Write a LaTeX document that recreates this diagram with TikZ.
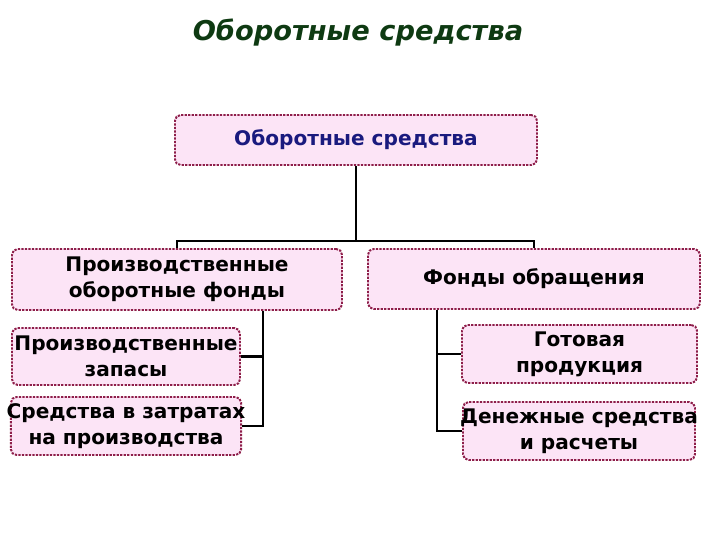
\documentclass[tikz,border=0pt]{standalone}
\usepackage{fontspec}
\setmainfont{DejaVu Sans}
\usetikzlibrary{positioning}
\definecolor{boxfill}{HTML}{FCE4F6}
\definecolor{boxline}{HTML}{8E1E4A}
\definecolor{titlegreen}{HTML}{0E3A12}
\definecolor{topblue}{HTML}{1A1A7E}
\begin{document}
\begin{tikzpicture}[font=\bfseries\fontsize{14.3}{18.5}\selectfont,fundbox/.style={draw=boxline,fill=boxfill,dash pattern=on 1.6pt off 0.9pt,line width=1.4pt,rounded corners=4pt,align=center,inner sep=2pt},subbox/.style={fundbox,inner xsep=-3pt},link/.style={line width=1.5pt}]
\useasboundingbox (0,0) rectangle (18,13.5);
\node[font=\bfseries\itshape\fontsize{19.4}{22}\selectfont,text=titlegreen] (title) at (8.95,12.675){Оборотные средства};
\node[fundbox,minimum width=9.05cm,minimum height=1.25cm,text=topblue] (top) at (8.9,10.0){Оборотные средства};
\node[fundbox,minimum width=8.25cm,minimum height=1.525cm] (l2) at (4.425,6.5125){Производственные\\оборотные фонды};
\node[fundbox,minimum width=8.3cm,minimum height=1.5cm] (r2) at (13.35,6.525){Фонды обращения};
\node[subbox,minimum width=5.7cm,minimum height=1.425cm] (ll1) at (3.15,4.5875){Производственные\\запасы};
\node[subbox,minimum width=5.7cm,minimum height=1.45cm] (ll2) at (3.15,2.85){Средства в затратах\\на производства};
\node[subbox,minimum width=5.875cm,minimum height=1.45cm] (rl1) at (14.4875,4.65){Готовая\\продукция};
\node[subbox,minimum width=5.8cm,minimum height=1.45cm] (rl2) at (14.475,2.725){Денежные средства\\и расчеты};
\coordinate (bus) at (8.9,7.475);
\draw[link] (top.south) -- (bus); \draw[link] (l2.north) |- (bus) -| (r2.north);
\draw[link] (ll1.east) -- ++(0.55,0) coordinate (lk); \draw[link] (l2.south -| lk) |- (ll2.east);
\draw[link] (rl1.west) -- ++(-0.6,0) coordinate (rk); \draw[link] (r2.south -| rk) |- (rl2.west);
\end{tikzpicture}
\end{document}
